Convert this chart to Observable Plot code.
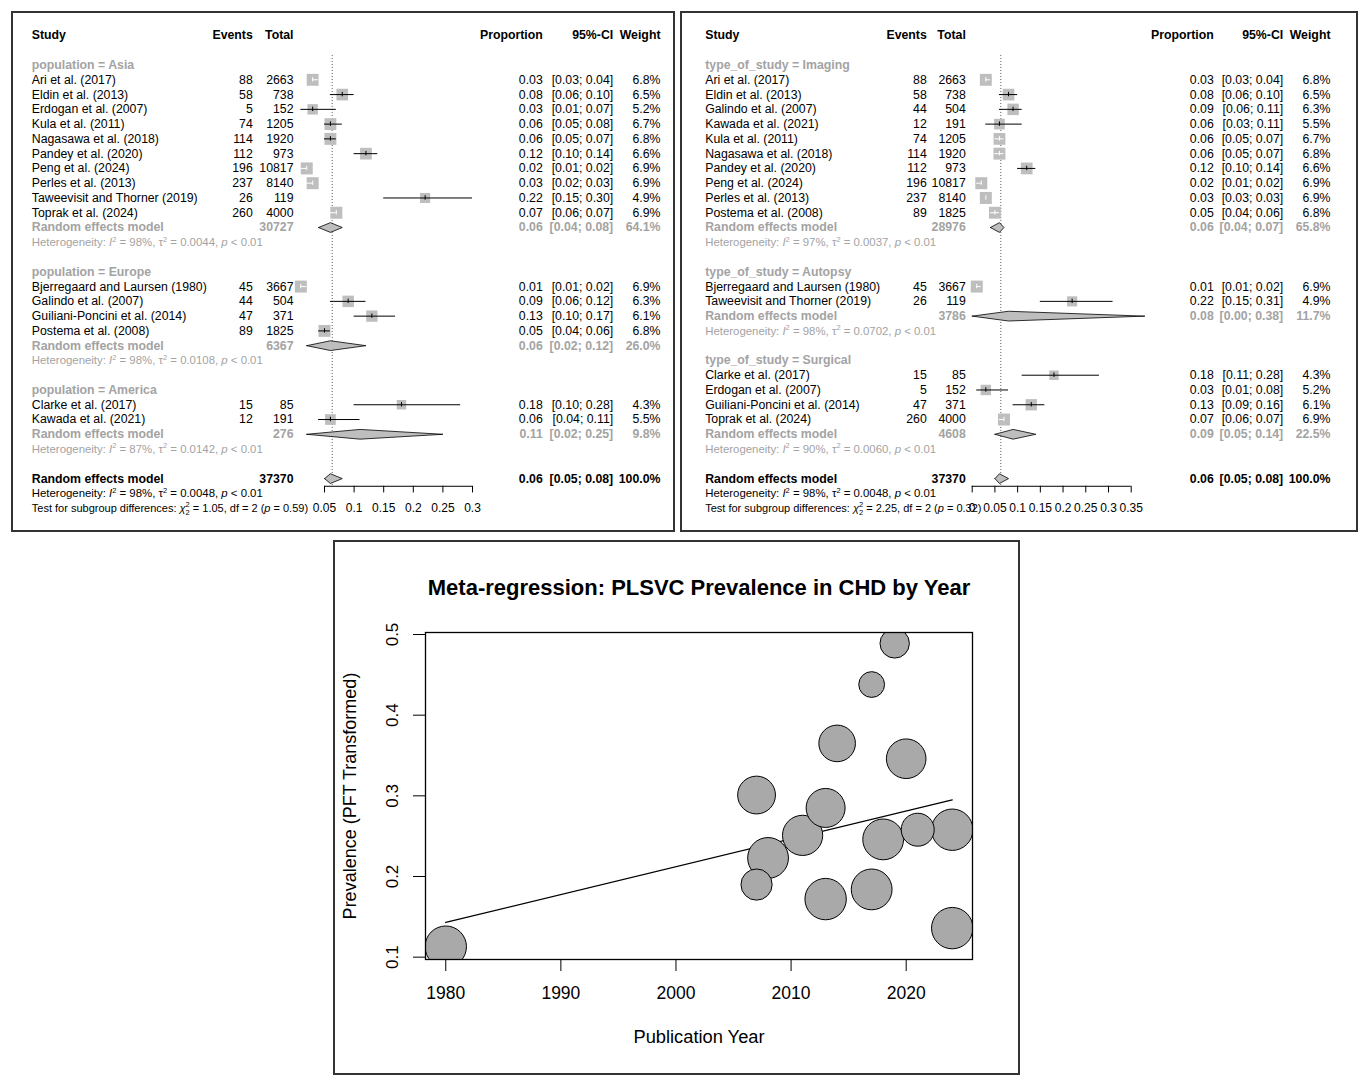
<!DOCTYPE html>
<html><head><meta charset="utf-8">
<script src="https://cdn.jsdelivr.net/npm/d3@7"></script>
<script src="https://cdn.jsdelivr.net/npm/@observablehq/plot@0.6"></script>
<style>
body{margin:0;background:#fff;width:1371px;height:1088px;position:relative;overflow:hidden;font-family:"Liberation Sans",Arial,sans-serif;}
.panel{position:absolute;box-sizing:border-box;border:2px solid #333;}
.chart{position:absolute;}
.chart svg{overflow:visible;}
</style></head><body>
<div class="panel" style="left:11px;top:11px;width:664px;height:521px"></div>
<div class="panel" style="left:680px;top:11px;width:678px;height:521px"></div>
<div class="panel" style="left:333px;top:540px;width:687px;height:535px"></div>
<div id="left" class="chart" style="left:12px;top:12px"></div>
<div id="right" class="chart" style="left:681px;top:12px"></div>
<div id="bottom" class="chart" style="left:334px;top:541px"></div>
<script>
// ---------- Left forest: subgroup = population ----------
const popGroups = ["Asia", "Europe", "America"];
const popStudy = ["Ari et al. (2017)", "Eldin et al. (2013)", "Erdogan et al. (2007)", "Kula et al. (2011)", "Nagasawa et al. (2018)", "Pandey et al. (2020)", "Peng et al. (2024)", "Perles et al. (2013)", "Taweevisit and Thorner (2019)", "Toprak et al. (2024)", "Bjerregaard and Laursen (1980)", "Galindo et al. (2007)", "Guiliani-Poncini et al. (2014)", "Postema et al. (2008)", "Clarke et al. (2017)", "Kawada et al. (2021)"];
const popGroup = ["Asia","Asia","Asia","Asia","Asia","Asia","Asia","Asia","Asia","Asia","Europe","Europe","Europe","Europe","America","America"];
const popEvents = [88, 58, 5, 74, 114, 112, 196, 237, 26, 260, 45, 44, 47, 89, 15, 12];
const popTotal = [2663, 738, 152, 1205, 1920, 973, 10817, 8140, 119, 4000, 3667, 504, 371, 1825, 85, 191];
const popProp = [0.03, 0.08, 0.03, 0.06, 0.06, 0.12, 0.02, 0.03, 0.22, 0.07, 0.01, 0.09, 0.13, 0.05, 0.18, 0.06];
const popLower = [0.03, 0.06, 0.01, 0.05, 0.05, 0.10, 0.01, 0.02, 0.15, 0.06, 0.01, 0.06, 0.10, 0.04, 0.10, 0.04];
const popUpper = [0.04, 0.10, 0.07, 0.08, 0.07, 0.14, 0.02, 0.03, 0.30, 0.07, 0.02, 0.12, 0.17, 0.06, 0.28, 0.11];
const popWeight = [6.8, 6.5, 5.2, 6.7, 6.8, 6.6, 6.9, 6.9, 4.9, 6.9, 6.9, 6.3, 6.1, 6.8, 4.3, 5.5];
const popSubTotal = [30727, 6367, 276];
const popSubProp = [0.06, 0.06, 0.11];
const popSubLower = [0.04, 0.02, 0.02];
const popSubUpper = [0.08, 0.12, 0.25];
const popSubWeight = [64.1, 26.0, 9.8];
const popSubI2 = [98, 98, 87];
const popSubTau2 = ["0.0044", "0.0108", "0.0142"];
const popTest = ["1.05", 2, "0.59"];
const popTicks = [0.05, 0.1, 0.15, 0.2, 0.25, 0.3];

// ---------- Right forest: subgroup = type_of_study ----------
const typeGroups = ["Imaging", "Autopsy", "Surgical"];
const typeStudy = ["Ari et al. (2017)", "Eldin et al. (2013)", "Galindo et al. (2007)", "Kawada et al. (2021)", "Kula et al. (2011)", "Nagasawa et al. (2018)", "Pandey et al. (2020)", "Peng et al. (2024)", "Perles et al. (2013)", "Postema et al. (2008)", "Bjerregaard and Laursen (1980)", "Taweevisit and Thorner (2019)", "Clarke et al. (2017)", "Erdogan et al. (2007)", "Guiliani-Poncini et al. (2014)", "Toprak et al. (2024)"];
const typeGroup = ["Imaging","Imaging","Imaging","Imaging","Imaging","Imaging","Imaging","Imaging","Imaging","Imaging","Autopsy","Autopsy","Surgical","Surgical","Surgical","Surgical"];
const typeEvents = [88, 58, 44, 12, 74, 114, 112, 196, 237, 89, 45, 26, 15, 5, 47, 260];
const typeTotal = [2663, 738, 504, 191, 1205, 1920, 973, 10817, 8140, 1825, 3667, 119, 85, 152, 371, 4000];
const typeProp = [0.03, 0.08, 0.09, 0.06, 0.06, 0.06, 0.12, 0.02, 0.03, 0.05, 0.01, 0.22, 0.18, 0.03, 0.13, 0.07];
const typeLower = [0.03, 0.06, 0.06, 0.03, 0.05, 0.05, 0.10, 0.01, 0.03, 0.04, 0.01, 0.15, 0.11, 0.01, 0.09, 0.06];
const typeUpper = [0.04, 0.10, 0.11, 0.11, 0.07, 0.07, 0.14, 0.02, 0.03, 0.06, 0.02, 0.31, 0.28, 0.08, 0.16, 0.07];
const typeWeight = [6.8, 6.5, 6.3, 5.5, 6.7, 6.8, 6.6, 6.9, 6.9, 6.8, 6.9, 4.9, 4.3, 5.2, 6.1, 6.9];
const typeSubTotal = [28976, 3786, 4608];
const typeSubProp = [0.06, 0.08, 0.09];
const typeSubLower = [0.04, 0.00, 0.05];
const typeSubUpper = [0.07, 0.38, 0.14];
const typeSubWeight = [65.8, 11.7, 22.5];
const typeSubI2 = [97, 98, 90];
const typeSubTau2 = ["0.0037", "0.0702", "0.0060"];
const typeTest = ["2.25", 2, "0.32"];
const typeTicks = [0, 0.05, 0.1, 0.15, 0.2, 0.25, 0.3, 0.35];

// ---------- Overall ----------
const overallTotal = 37370;
const overallProp = 0.06, overallLower = 0.05, overallUpper = 0.08, overallWeight = 100.0;
const overallI2 = 98, overallTau2 = "0.0048";
const overallRef = 0.063;

// ---------- Meta-regression ----------
const regYear = [1980, 2007, 2007, 2008, 2011, 2013, 2013, 2014, 2017, 2017, 2018, 2019, 2020, 2021, 2024, 2024];
const regValue = [0.113, 0.301, 0.190, 0.223, 0.251, 0.285, 0.172, 0.365, 0.438, 0.184, 0.246, 0.489, 0.346, 0.258, 0.258, 0.136];
const regWeight = [6.9, 6.3, 5.2, 6.8, 6.7, 6.5, 6.9, 6.1, 4.3, 6.8, 6.8, 4.9, 6.6, 5.5, 6.9, 6.9];
const fitYear = [1980, 2024];
const fitValue = [0.143, 0.295];
const regXTicks = [1980, 1990, 2000, 2010, 2020];
const regYTicks = [0.1, 0.2, 0.3, 0.4, 0.5];

// ---------- helpers ----------
const FONT = "Liberation Sans, Arial, Helvetica, sans-serif";
const GRAY = "#a3a3a3";
const f2 = v => v.toFixed(2);
const ciStr = (lo, hi) => `[${f2(lo)}; ${f2(hi)}]`;
const wStr = w => `${w.toFixed(1)}%`;
const hetStr = (i2, tau2) => `Heterogeneity: {I}{^2} = ${i2}%, τ{^2} = ${tau2}, {p} < 0.01`;

function buildRows(cfg) {
  const rows = [];
  rows.push({row: 0, style: "header", c: ["Study", "Events", "Total", "Proportion", "95%-CI", "Weight"]});
  let r = 2;
  const studies = [], diamonds = [];
  cfg.groups.forEach((g, gi) => {
    rows.push({row: r++, style: "glabel", c: [`${cfg.name} = ${g}`]});
    cfg.study.forEach((s, i) => {
      if (cfg.group[i] !== g) return;
      const d = {row: r++, style: "study", prop: cfg.prop[i], lower: cfg.lower[i], upper: cfg.upper[i], weight: cfg.weight[i],
        c: [s, String(cfg.events[i]), String(cfg.total[i]), f2(cfg.prop[i]), ciStr(cfg.lower[i], cfg.upper[i]), wStr(cfg.weight[i])]};
      rows.push(d); studies.push(d);
    });
    const sd = {row: r++, style: "sub", prop: cfg.subProp[gi], lower: cfg.subLower[gi], upper: cfg.subUpper[gi],
      c: ["Random effects model", "", String(cfg.subTotal[gi]), f2(cfg.subProp[gi]), ciStr(cfg.subLower[gi], cfg.subUpper[gi]), wStr(cfg.subWeight[gi])]};
    rows.push(sd); diamonds.push(sd);
    rows.push({row: r++, style: "het", c: [hetStr(cfg.subI2[gi], cfg.subTau2[gi])]});
    r++;
  });
  const od = {row: r++, style: "overall", prop: overallProp, lower: overallLower, upper: overallUpper,
    c: ["Random effects model", "", String(overallTotal), f2(overallProp), ciStr(overallLower, overallUpper), wStr(overallWeight)]};
  rows.push(od); diamonds.push(od);
  rows.push({row: r++, style: "ohet", c: [hetStr(overallI2, overallTau2)]});
  const testRow = r++;
  rows.push({row: testRow, style: "test", c: [`Test for subgroup differences: {x}{^2}{_2} = ${cfg.test[0]}, df = ${cfg.test[1]} ({p} = ${cfg.test[2]})`]});
  return {rows, studies, diamonds, overallRow: od.row, testRow};
}

const STYLES = {
  header: {fill: "black", fontWeight: "bold", fontSize: 12.3},
  glabel: {fill: GRAY, fontWeight: "bold", fontSize: 12.3},
  study: {fill: "black", fontWeight: "normal", fontSize: 12.3},
  sub: {fill: GRAY, fontWeight: "bold", fontSize: 12.3},
  het: {fill: GRAY, fontWeight: "normal", fontSize: 11.4},
  overall: {fill: "black", fontWeight: "bold", fontSize: 12.3},
  ohet: {fill: "black", fontWeight: "normal", fontSize: 11.4},
  test: {fill: "black", fontWeight: "normal", fontSize: 11}
};

function forest(cfg) {
  const {rows, studies, diamonds, overallRow, testRow} = buildRows(cfg);
  const [d0, d1] = cfg.xDomain, [r0, r1] = cfg.xRange;
  const pxPerUnit = (r1 - r0) / (d1 - d0);
  const maxSide = 12, maxW = 6.9;
  studies.forEach(d => {
    const side = Math.sqrt(d.weight / maxW) * maxSide;
    d.inside = (d.upper - d.lower) * pxPerUnit < side * 0.9;
  });
  const h = 0.33;
  const dpts = [];
  diamonds.forEach((d, i) => {
    dpts.push({id: i, x: d.lower, y: d.row}, {id: i, x: d.prop, y: d.row - h}, {id: i, x: d.upper, y: d.row},
              {id: i, x: d.prop, y: d.row + h}, {id: i, x: d.lower, y: d.row});
  });
  const axisRow = overallRow + 0.52;
  const textMarks = [];
  for (const [s, st] of Object.entries(STYLES)) {
    for (let k = 0; k < 6; k++) {
      textMarks.push(Plot.text(rows, {
        filter: d => d.style === s && d.c[k] != null && d.c[k] !== "",
        y: "row", text: d => d.c[k], frameAnchor: "left", dx: cfg.cols[k],
        textAnchor: k === 0 ? "start" : "end", fontFamily: FONT, ...st
      }));
    }
  }
  const plot = Plot.plot({
    width: cfg.width, height: 519, marginLeft: 0, marginRight: 0, marginTop: 0, marginBottom: 0,
    x: {domain: cfg.xDomain, range: cfg.xRange, axis: null},
    y: {domain: [0, 32], range: [23, 23 + 32 * 14.77], axis: null},
    r: {type: "sqrt", domain: [0, maxW], range: [0, maxSide / Math.sqrt(Math.PI)]},
    style: {fontFamily: FONT, background: "transparent", overflow: "visible"},
    marks: [
      Plot.ruleX([overallRef], {x: d => d, y1: 2 - 0.65, y2: axisRow, stroke: "#555", strokeDasharray: "1,2", strokeWidth: 1}),
      Plot.dot(studies, {x: "prop", y: "row", r: "weight", symbol: "square", fill: "#bebebe", stroke: null}),
      Plot.ruleY(studies.filter(d => !d.inside), {y: "row", x1: "lower", x2: "upper", stroke: "black", strokeWidth: 1}),
      Plot.ruleX(studies.filter(d => !d.inside), {x: "prop", y1: d => d.row - 0.15, y2: d => d.row + 0.15, stroke: "black", strokeWidth: 1}),
      Plot.ruleY(studies.filter(d => d.inside), {y: "row", x1: "lower", x2: "upper", stroke: "white", strokeWidth: 1}),
      Plot.ruleX(studies.filter(d => d.inside), {x: "prop", y1: d => d.row - 0.15, y2: d => d.row + 0.15, stroke: "white", strokeWidth: 1}),
      Plot.line(dpts, {x: "x", y: "y", z: "id", fill: "#bebebe", stroke: "black", strokeWidth: 0.8, curve: "linear"}),
      Plot.ruleY([axisRow], {y: d => d, x1: cfg.ticks[0], x2: cfg.ticks[cfg.ticks.length - 1], stroke: "black", strokeWidth: 1}),
      Plot.ruleX(cfg.ticks, {x: d => d, y1: axisRow, y2: axisRow + 0.45, stroke: "black", strokeWidth: 1}),
      Plot.text(cfg.ticks, {x: d => d, y: testRow, text: d => String(d), fontSize: 12, fontFamily: FONT, fill: "black"}),
      ...textMarks
    ]
  });
  return plot;
}

function rich(svg) {
  const NS = "http://www.w3.org/2000/svg";
  svg.querySelectorAll("text").forEach(t => {
    const s = t.textContent;
    if (!s.includes("{")) return;
    const fs = 11;
    const parts = s.split(/(\{[^}]+\})/).filter(x => x);
    t.textContent = "";
    let cur = 0, prev = null;
    for (const p of parts) {
      let seg = {text: p, italic: false, off: 0, size: null, dx: 0};
      if (p === "{I}") seg = {text: "I", italic: true, off: 0};
      else if (p === "{p}") seg = {text: "p", italic: true, off: 0};
      else if (p === "{x}") seg = {text: "χ", italic: true, off: 0};
      else if (p === "{^2}") seg = {text: "2", off: -0.4 * fs, size: 0.68 * fs};
      else if (p === "{_2}") seg = {text: "2", off: 0.3 * fs, size: 0.68 * fs, dx: prev === "{^2}" ? -0.38 * fs : 0};
      const ts = document.createElementNS(NS, "tspan");
      ts.textContent = seg.text;
      if (seg.off - cur !== 0) ts.setAttribute("dy", seg.off - cur);
      cur = seg.off;
      if (seg.dx) ts.setAttribute("dx", seg.dx);
      if (seg.italic) ts.setAttribute("font-style", "italic");
      if (seg.size) ts.setAttribute("font-size", seg.size);
      t.appendChild(ts);
      prev = p;
    }
  });
}

const leftPlot = forest({
  name: "population", groups: popGroups, study: popStudy, group: popGroup, events: popEvents, total: popTotal,
  prop: popProp, lower: popLower, upper: popUpper, weight: popWeight,
  subTotal: popSubTotal, subProp: popSubProp, subLower: popSubLower, subUpper: popSubUpper, subWeight: popSubWeight,
  subI2: popSubI2, subTau2: popSubTau2, test: popTest, ticks: popTicks,
  width: 662, xDomain: [0.05, 0.3], xRange: [312, 460],
  cols: [19.3, 240.3, 281, 530.3, 600.7, 648]
});
document.getElementById("left").appendChild(leftPlot);
rich(leftPlot);

const rightPlot = forest({
  name: "type_of_study", groups: typeGroups, study: typeStudy, group: typeGroup, events: typeEvents, total: typeTotal,
  prop: typeProp, lower: typeLower, upper: typeUpper, weight: typeWeight,
  subTotal: typeSubTotal, subProp: typeSubProp, subLower: typeSubLower, subUpper: typeSubUpper, subWeight: typeSubWeight,
  subI2: typeSubI2, subTau2: typeSubTau2, test: typeTest, ticks: typeTicks,
  width: 676, xDomain: [0, 0.35], xRange: [290.7, 449.7],
  cols: [23.7, 245.3, 284.3, 532.3, 601.7, 649]
});
document.getElementById("right").appendChild(rightPlot);
rich(rightPlot);

// ---------- bubble plot ----------
const bubbles = regYear.map((y, i) => ({year: y, value: regValue[i], w: regWeight[i]}))
  .sort((a, b) => b.w - a.w);
const fit = fitYear.map((y, i) => ({year: y, value: fitValue[i]}));
const bottomPlot = Plot.plot({
  width: 685, height: 533, marginLeft: 91, marginRight: 47, marginTop: 91, marginBottom: 115,
  x: {domain: [1978.24, 2025.76]},
  y: {domain: [0.0971, 0.5025]},
  r: {type: "linear", domain: [0, 6.9], range: [0, 20.7]},
  style: {fontFamily: FONT, background: "transparent", overflow: "visible", color: "black"},
  marks: [
    Plot.line(fit, {x: "year", y: "value", stroke: "black", strokeWidth: 1.3, clip: true}),
    Plot.dot(bubbles, {x: "year", y: "value", r: "w", fill: "#a9a9a9", stroke: "black", strokeWidth: 1, clip: true}),
    Plot.frame({stroke: "black", strokeWidth: 1.3}),
    Plot.axisX({ticks: regXTicks, tickSize: 12, tickPadding: 15, fontSize: 17.5, label: null, tickFormat: d => String(d), fontFamily: FONT}),
    Plot.axisY({ticks: regYTicks, tickSize: 12, tickFormat: () => "", label: null}),
    Plot.text(regYTicks, {y: d => d, text: d => d.toFixed(1), frameAnchor: "left", dx: -33, rotate: -90, textAnchor: "middle", lineAnchor: "middle", fontSize: 17, fontFamily: FONT}),
    Plot.text(["Meta-regression: PLSVC Prevalence in CHD by Year"], {text: d => d, frameAnchor: "top", dy: -45, lineAnchor: "middle", fontSize: 22, fontWeight: "bold", fontFamily: FONT}),
    Plot.text(["Publication Year"], {text: d => d, frameAnchor: "bottom", dy: 78, lineAnchor: "middle", fontSize: 18.3, fontFamily: FONT}),
    Plot.text(["Prevalence (PFT Transformed)"], {text: d => d, frameAnchor: "left", dx: -75, rotate: -90, textAnchor: "middle", lineAnchor: "middle", fontSize: 18, fontFamily: FONT})
  ]
});
document.getElementById("bottom").appendChild(bottomPlot);
</script>
</body></html>
